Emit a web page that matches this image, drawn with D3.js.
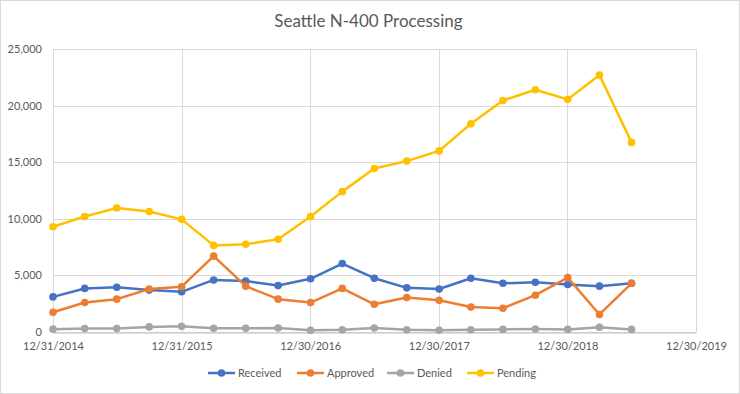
<!DOCTYPE html>
<html>
<head>
<meta charset="utf-8">
<script src="https://cdn.jsdelivr.net/npm/d3@7"></script>
<style>
    body { margin: 0; background: #fff; }
    svg { display: block; font-family: Lato, "Liberation Sans", sans-serif; }
</style>
</head>
<body>
<div id="chart"></div>
<script>
// quarter end dates
const dates = ["2014-12-31", "2015-03-31", "2015-06-30", "2015-09-30", "2015-12-31",
    "2016-03-31", "2016-06-30", "2016-09-30", "2016-12-31", "2017-03-31", "2017-06-30",
    "2017-09-30", "2017-12-31", "2018-03-31", "2018-06-30", "2018-09-30", "2018-12-31",
    "2019-03-31", "2019-06-30"]

const received = [3100, 3850, 3950, 3700, 3550, 4600, 4500, 4100, 4700, 6050, 4750, 3900, 3800, 4750, 4300, 4400, 4200, 4050, 4300]
const approved = [1750, 2600, 2900, 3800, 4000, 6700, 4050, 2900, 2600, 3850, 2450, 3050, 2800, 2200, 2100, 3250, 4800, 1550, 4300]
const denied = [250, 300, 300, 450, 500, 330, 330, 350, 150, 200, 350, 200, 150, 200, 230, 260, 230, 420, 230]
const pending = [9300, 10200, 10950, 10650, 9950, 7650, 7750, 8200, 10200, 12400, 14450, 15100, 16000, 18400, 20450, 21400, 20550, 22700, 16750]

const seriesNames = ["Received", "Approved", "Denied", "Pending"]
const seriesColors = ["#4472C4", "#ED7D31", "#A5A5A5", "#FFC000"]

// x ticks every 365 days, y ticks every 5000
const xTickLabels = ["12/31/2014", "12/31/2015", "12/30/2016", "12/30/2017", "12/30/2018", "12/30/2019"]
const yTicks = [0, 5000, 10000, 15000, 20000, 25000]

const W = 740, H = 394
const margin = { top: 49, right: 44, bottom: 62, left: 53 }
const width = W - margin.left - margin.right
const height = H - margin.top - margin.bottom

const parse = d3.timeParse("%Y-%m-%d")
const parseTick = d3.timeParse("%m/%d/%Y")
const tickDates = xTickLabels.map(parseTick)

const svg = d3.select("#chart").append("svg")
    .attr("width", W)
    .attr("height", H)

// chart border
svg.append("rect")
    .attr("x", 0.5).attr("y", 0.5)
    .attr("width", W - 1).attr("height", H - 1)
    .attr("fill", "#fff")
    .attr("stroke", "#d9d9d9")

svg.append("text")
    .text("Seattle N-400 Processing")
    .attr("x", 368.5)
    .attr("y", 27)
    .attr("text-anchor", "middle")
    .attr("font-size", "17px")
    .attr("fill", "#595959")

const g = svg.append("g")
    .attr("transform", "translate(" + margin.left + "," + margin.top + ")")

const x = d3.scaleTime()
    .domain([tickDates[0], tickDates[tickDates.length - 1]])
    .range([0, width])

const y = d3.scaleLinear()
    .domain([0, 25000])
    .range([height, 0])

// gridlines
g.append("g")
    .selectAll("line.hgrid")
    .data(yTicks)
    .enter().append("line")
    .attr("x1", 0).attr("x2", width)
    .attr("y1", d => Math.round(y(d)) + 0.5)
    .attr("y2", d => Math.round(y(d)) + 0.5)
    .attr("stroke", "#d9d9d9")

g.append("g")
    .selectAll("line.vgrid")
    .data(tickDates)
    .enter().append("line")
    .attr("x1", d => Math.round(x(d)) + 0.5)
    .attr("x2", d => Math.round(x(d)) + 0.5)
    .attr("y1", 0).attr("y2", height)
    .attr("stroke", "#d9d9d9")

// axes
const xAxis = d3.axisBottom(x)
    .tickValues(tickDates)
    .tickFormat((d, i) => xTickLabels[i])
    .tickSize(0)
    .tickPadding(10)

g.append("g")
    .attr("class", "x-axis")
    .attr("transform", "translate(0," + (Math.round(height) + 0.5) + ")")
    .call(xAxis)

const yAxis = d3.axisLeft(y)
    .tickValues(yTicks)
    .tickFormat(d3.format(","))
    .tickSize(0)
    .tickPadding(11)

g.append("g")
    .attr("class", "y-axis")
    .call(yAxis)

g.selectAll(".x-axis path").attr("stroke", "#bfbfbf")
g.selectAll(".y-axis path").remove()
g.selectAll(".tick text")
    .attr("fill", "#595959")
    .attr("font-size", "11px")
    .attr("font-family", "Lato, 'Liberation Sans', sans-serif")

// series
const allSeries = [received, approved, denied, pending].map((vals, i) => ({
    name: seriesNames[i],
    color: seriesColors[i],
    values: vals.map((v, j) => ({ date: parse(dates[j]), value: v }))
}))

const line = d3.line()
    .x(d => x(d.date))
    .y(d => y(d.value))

const groups = g.selectAll(".series")
    .data(allSeries)
    .enter().append("g")
    .attr("class", "series")

groups.append("path")
    .attr("d", d => line(d.values))
    .attr("fill", "none")
    .attr("stroke", d => d.color)
    .attr("stroke-width", 2.5)
    .attr("stroke-linejoin", "round")

groups.selectAll("circle")
    .data(d => d.values.map(v => ({ ...v, color: d.color })))
    .enter().append("circle")
    .attr("cx", d => x(d.date))
    .attr("cy", d => y(d.value))
    .attr("r", 3.8)
    .attr("fill", d => d.color)

// legend
const legendX = [208, 297, 387, 467]
const legend = svg.append("g")
    .attr("transform", "translate(0,373)")

const items = legend.selectAll(".legend-item")
    .data(allSeries)
    .enter().append("g")
    .attr("transform", (d, i) => "translate(" + legendX[i] + ",0)")

items.append("line")
    .attr("x1", 0).attr("x2", 27)
    .attr("stroke", d => d.color)
    .attr("stroke-width", 2.5)

items.append("circle")
    .attr("cx", 13.5)
    .attr("r", 3.8)
    .attr("fill", d => d.color)

items.append("text")
    .text(d => d.name)
    .attr("x", 30)
    .attr("dy", "0.35em")
    .attr("font-size", "11px")
    .attr("fill", "#595959")
</script>
</body>
</html>
